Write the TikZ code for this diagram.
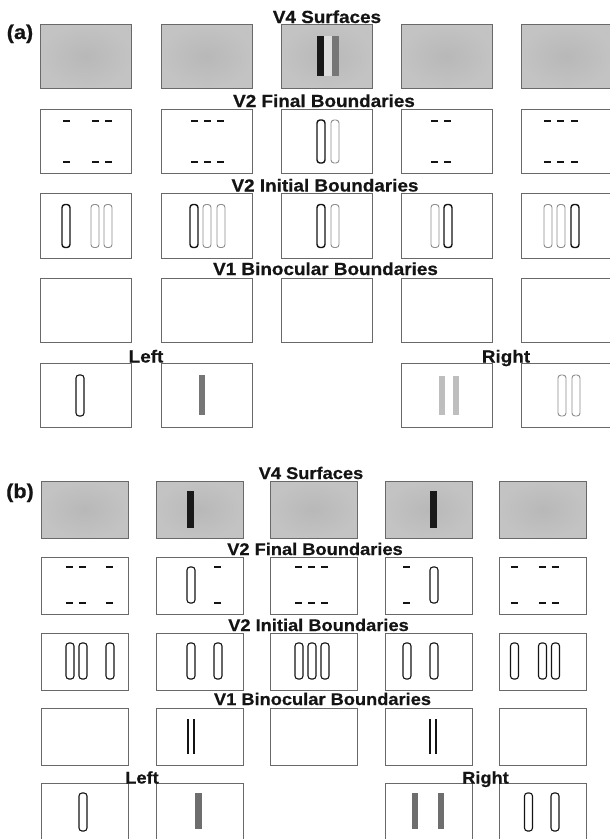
\documentclass[tikz,border=0pt]{standalone}
\usepackage{fontspec}
\newfontfamily\lblfont{Liberation Sans}[FakeStretch=1.08, FakeBold=0.6]
\definecolor{frm}{RGB}{105,105,105}
\definecolor{surfin}{RGB}{184,184,184}
\definecolor{surfout}{RGB}{195,195,195}
\definecolor{midgray}{RGB}{118,118,118}
\definecolor{ltgray}{RGB}{190,190,190}
\definecolor{ink}{RGB}{20,20,20}
\definecolor{faint}{RGB}{140,140,140}
\definecolor{gapgray}{RGB}{222,222,222}
\definecolor{dkbar}{RGB}{110,110,110}
\newcommand\capsl[4]{\draw[#4] (#1,#2) rectangle (#1+8,#3);}
\newcommand\dsh[3]{\draw[dashmark] (#1,#2) -- (#1+7,#2); \draw[dashmark] (#1,#3) -- (#1+7,#3);}
\tikzset{
  lbl/.style={font=\lblfont\bfseries\fontsize{17.5}{18}\selectfont, inner sep=0pt, anchor=base, text=ink},
  lblb/.style={lbl, font=\lblfont\bfseries\fontsize{16.9}{18}\selectfont},
  panellbl/.style={lbl, font=\lblfont\bfseries\fontsize{20}{21}\selectfont},
  boxa/.style={draw=frm, line width=0.9pt, anchor=north west, inner sep=0pt, outer sep=0pt, minimum width=91pt, minimum height=64.5pt},
  boxb/.style={draw=frm, line width=0.9pt, anchor=north west, inner sep=0pt, outer sep=0pt, minimum width=87pt, minimum height=57.5pt},
  surf/.style={shade, inner color=surfin, outer color=surfout},
  caps/.style={draw=ink, line width=1.4pt, rounded corners=3pt},
  capslight/.style={draw=faint, line width=0.9pt, rounded corners=3pt},
  capsthin/.style={draw=ink, line width=1.1pt, rounded corners=3pt},
  capsgray/.style={draw=faint, line width=0.9pt, rounded corners=3pt},
  dashmark/.style={draw=ink, line width=1.6pt},
  vline/.style={draw=ink, line width=1.5pt},
}
\begin{document}
\begin{tikzpicture}[x=1pt,y=-1pt]
\useasboundingbox (0,0) rectangle (610,839);
\fill[white] (0,0) rectangle (610,839);

% ---------------- panel (a) ----------------
\foreach \c/\x in {1/40,2/161,3/281,4/401,5/521}{
  \node[boxa,surf] (aS\c) at (\x,24) {};
  \node[boxa] (aF\c) at (\x,109) {};
  \node[boxa] (aI\c) at (\x,193.5) {};
  \node[boxa] (aB\c) at (\x,278) {};
}
\foreach \c/\x in {1/40,2/161,4/401,5/521}{
  \node[boxa] (aE\c) at (\x,363) {};
}
% V4 surfaces
\begin{scope}[shift={(aS3.north west)}]
  \fill[black!90] (36,12) rectangle (43,52);
  \fill[gapgray] (43,12) rectangle (51,52);
  \fill[midgray] (51,12) rectangle (58,52);
\end{scope}
% V2 final
\begin{scope}[shift={(aF1.north west)}]
  \dsh{23}{12}{53} \dsh{52}{12}{53} \dsh{65}{12}{53}
\end{scope}
\begin{scope}[shift={(aF2.north west)}]
  \dsh{30}{12}{53} \dsh{43}{12}{53} \dsh{56}{12}{53}
\end{scope}
\begin{scope}[shift={(aF3.north west)}]
  \capsl{36}{11}{54}{caps} \capsl{50}{11}{54}{capslight}
\end{scope}
\begin{scope}[shift={(aF4.north west)}]
  \dsh{30}{12}{53} \dsh{43}{12}{53}
\end{scope}
\begin{scope}[shift={(aF5.north west)}]
  \dsh{23}{12}{53} \dsh{36}{12}{53} \dsh{50}{12}{53}
\end{scope}
% V2 initial
\begin{scope}[shift={(aI1.north west)}]
  \capsl{22}{11}{54}{caps} \capsl{51}{11}{54}{capslight} \capsl{64}{11}{54}{capslight}
\end{scope}
\begin{scope}[shift={(aI2.north west)}]
  \capsl{29}{11}{54}{caps} \capsl{42}{11}{54}{capslight} \capsl{56}{11}{54}{capslight}
\end{scope}
\begin{scope}[shift={(aI3.north west)}]
  \capsl{36}{11}{54}{caps} \capsl{50}{11}{54}{capslight}
\end{scope}
\begin{scope}[shift={(aI4.north west)}]
  \capsl{30}{11}{54}{capslight} \capsl{43}{11}{54}{caps}
\end{scope}
\begin{scope}[shift={(aI5.north west)}]
  \capsl{23}{11}{54}{capslight} \capsl{36}{11}{54}{capslight} \capsl{50}{11}{54}{caps}
\end{scope}
% eyes
\begin{scope}[shift={(aE1.north west)}]
  \capsl{36}{12}{53}{capsthin}
\end{scope}
\begin{scope}[shift={(aE2.north west)}]
  \fill[midgray] (38,12) rectangle (44,52);
\end{scope}
\begin{scope}[shift={(aE4.north west)}]
  \fill[ltgray] (38,13) rectangle (44,52);
  \fill[ltgray] (52,13) rectangle (58,52);
\end{scope}
\begin{scope}[shift={(aE5.north west)}]
  \capsl{37}{12}{53}{capsgray} \capsl{51}{12}{53}{capsgray}
\end{scope}
% labels (a)
\node[panellbl] (pa) at (20,39) {(a)};
\node[lbl] (tA1) at (327,23) {V4 Surfaces};
\node[lbl] (tA2) at (324,107) {V2 Final Boundaries};
\node[lbl] (tA3) at (325,191.5) {V2 Initial Boundaries};
\node[lbl] (tA4) at (325.5,275) {V1 Binocular Boundaries};
\node[lbl] (tAL) at (146,362.5) {Left};
\node[lbl] (tAR) at (506,362.5) {Right};

% ---------------- panel (b) ----------------
\foreach \c/\x in {1/41,2/156.5,3/270,4/385,5/499.5}{
  \node[boxb,surf] (bS\c) at (\x,481) {};
  \node[boxb] (bF\c) at (\x,557) {};
  \node[boxb] (bI\c) at (\x,633) {};
  \node[boxb] (bB\c) at (\x,708) {};
}
\foreach \c/\x in {1/41,2/156.5,4/385,5/499.5}{
  \node[boxb] (bE\c) at (\x,783) {};
}
% V4 surfaces
\begin{scope}[shift={(bS2.north west)}]
  \fill[black!90] (30.5,10) rectangle (37.5,47);
\end{scope}
\begin{scope}[shift={(bS4.north west)}]
  \fill[black!90] (45,10) rectangle (52,47);
\end{scope}
% V2 final
\begin{scope}[shift={(bF1.north west)}]
  \dsh{25}{10}{46} \dsh{38}{10}{46} \dsh{65}{10}{46}
\end{scope}
\begin{scope}[shift={(bF2.north west)}]
  \capsl{30.5}{10}{46}{capsthin} \dsh{57.5}{10}{46}
\end{scope}
\begin{scope}[shift={(bF3.north west)}]
  \dsh{25}{10}{46} \dsh{38}{10}{46} \dsh{51}{10}{46}
\end{scope}
\begin{scope}[shift={(bF4.north west)}]
  \dsh{18}{10}{46} \capsl{45}{10}{46}{capsthin}
\end{scope}
\begin{scope}[shift={(bF5.north west)}]
  \dsh{11}{10}{46} \dsh{39}{10}{46} \dsh{52}{10}{46}
\end{scope}
% V2 initial
\begin{scope}[shift={(bI1.north west)}]
  \capsl{25}{10}{46}{capsthin} \capsl{38}{10}{46}{capsthin} \capsl{65}{10}{46}{capsthin}
\end{scope}
\begin{scope}[shift={(bI2.north west)}]
  \capsl{30.5}{10}{46}{capsthin} \capsl{57.5}{10}{46}{capsthin}
\end{scope}
\begin{scope}[shift={(bI3.north west)}]
  \capsl{25}{10}{46}{capsthin} \capsl{38}{10}{46}{capsthin} \capsl{51}{10}{46}{capsthin}
\end{scope}
\begin{scope}[shift={(bI4.north west)}]
  \capsl{18}{10}{46}{capsthin} \capsl{45}{10}{46}{capsthin}
\end{scope}
\begin{scope}[shift={(bI5.north west)}]
  \capsl{11}{10}{46}{capsthin} \capsl{39}{10}{46}{capsthin} \capsl{52}{10}{46}{capsthin}
\end{scope}
% V1 binocular
\begin{scope}[shift={(bB2.north west)}]
  \draw[vline] (31.5,11) -- (31.5,46);
  \draw[vline] (37.5,11) -- (37.5,46);
\end{scope}
\begin{scope}[shift={(bB4.north west)}]
  \draw[vline] (45,11) -- (45,46);
  \draw[vline] (51,11) -- (51,46);
\end{scope}
% eyes
\begin{scope}[shift={(bE1.north west)}]
  \capsl{38}{10}{48}{capsthin}
\end{scope}
\begin{scope}[shift={(bE2.north west)}]
  \fill[dkbar] (38.5,10) rectangle (45.5,46);
\end{scope}
\begin{scope}[shift={(bE4.north west)}]
  \fill[dkbar] (27,10) rectangle (33,46);
  \fill[dkbar] (53,10) rectangle (59,46);
\end{scope}
\begin{scope}[shift={(bE5.north west)}]
  \capsl{25}{10}{48}{capsthin} \capsl{51.5}{10}{48}{capsthin}
\end{scope}
% labels (b)
\node[panellbl] (pb) at (20,498) {(b)};
\node[lblb] (tB1) at (311,479) {V4 Surfaces};
\node[lblb] (tB2) at (315,555) {V2 Final Boundaries};
\node[lblb] (tB3) at (318.5,631) {V2 Initial Boundaries};
\node[lblb] (tB4) at (322.5,705) {V1 Binocular Boundaries};
\node[lblb] (tBL) at (142,783.5) {Left};
\node[lblb] (tBR) at (485.5,783.5) {Right};
\end{tikzpicture}
\end{document}
